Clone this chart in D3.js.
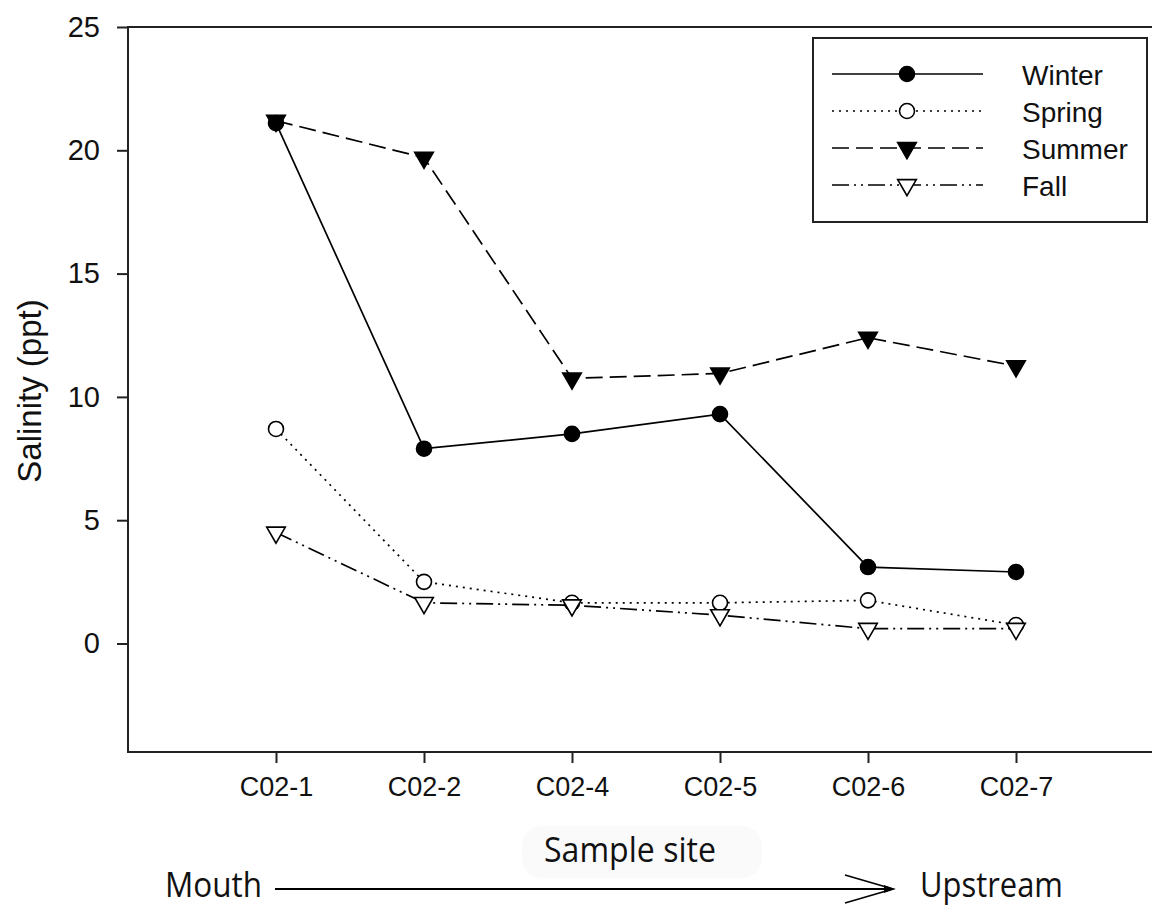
<!DOCTYPE html>
<html>
<head>
<meta charset="utf-8">
<script src="https://cdn.jsdelivr.net/npm/d3@7"></script>
<style>
  body { margin: 0; background: #fff; overflow: hidden; }
  svg { display: block; overflow: hidden; }
</style>
</head>
<body>
<div id="chart"></div>
<script>
// sample sites, mouth to upstream
var sites = ['C02-1', 'C02-2', 'C02-4', 'C02-5', 'C02-6', 'C02-7'];

// salinity (ppt) per season
var winter = [21.1, 7.9, 8.5, 9.3, 3.1, 2.9];
var spring = [8.7, 2.5, 1.65, 1.65, 1.75, 0.75];
var summer = [21.2, 19.7, 10.75, 10.95, 12.4, 11.25];
var fall = [4.5, 1.65, 1.55, 1.15, 0.6, 0.6];

var yTicks = [0, 5, 10, 15, 20, 25];

var series = [
  { name: 'Winter', values: winter, dash: null, marker: 'circle', fill: '#000' },
  { name: 'Spring', values: spring, dash: '2,5', marker: 'circle', fill: '#fff' },
  { name: 'Summer', values: summer, dash: '17,7', marker: 'triangle', fill: '#000' },
  { name: 'Fall', values: fall, dash: '17,5,2,5,2,5', marker: 'triangle', fill: '#fff' }
];

var width = 1152, height = 907;
var frame = { left: 128, top: 27, right: 1164, bottom: 752 };

var svg = d3.select('#chart').append('svg')
    .attr('width', width)
    .attr('height', height);

// scales: one empty slot each side of the sites, the right one falls off the page
var x = d3.scalePoint()
    .domain(sites)
    .range([frame.left, frame.right])
    .padding(1);

var y = d3.scaleLinear()
    .domain([-4.4, 25])
    .range([frame.bottom, frame.top]);

// frame: top, left, bottom (right side is cut off in the figure)
svg.append('path')
    .attr('d', 'M' + width + ',' + frame.top + ' H' + frame.left +
               ' V' + frame.bottom + ' H' + width)
    .attr('fill', 'none')
    .attr('stroke', '#222')
    .attr('stroke-width', 2);

// y axis
var yAxis = svg.append('g')
    .attr('transform', 'translate(' + frame.left + ',0)')
    .call(d3.axisLeft(y).tickValues(yTicks).tickSize(11).tickPadding(17));
styleAxis(yAxis);

// x axis
var xAxis = svg.append('g')
    .attr('transform', 'translate(0,' + frame.bottom + ')')
    .call(d3.axisBottom(x).tickSize(11).tickPadding(14));
styleAxis(xAxis);
xAxis.selectAll('text').attr('font-size', 27);

// axis titles
svg.append('text')
    .attr('transform', 'translate(41,391) rotate(-90)')
    .attr('text-anchor', 'middle')
    .attr('font-family', '"Liberation Sans", Arial, sans-serif')
    .attr('font-size', 33)
    .attr('fill', '#111')
    .text('Salinity (ppt)');

// faint patch behind the x title, as in the scan
svg.append('rect')
    .attr('x', 522).attr('y', 826)
    .attr('width', 240).attr('height', 52)
    .attr('rx', 20)
    .attr('fill', '#fafafa');

drawLabel('Sample site', 544, 862, 172);
drawLabel('Mouth', 165, 897, 97);
drawLabel('Upstream', 920, 897, 143);

// mouth -> upstream arrow
svg.append('line')
    .attr('x1', 275).attr('y1', 889)
    .attr('x2', 893).attr('y2', 889)
    .attr('stroke', '#000').attr('stroke-width', 2);
svg.append('path')
    .attr('d', 'M845,875 L893,889 L845,903')
    .attr('fill', 'none')
    .attr('stroke', '#000').attr('stroke-width', 1.6);
svg.append('path')
    .attr('d', 'M884,885 L895,889 L884,893 Z')
    .attr('fill', '#000');

// series lines
var line = d3.line()
    .x(function(d, i) { return x(sites[i]); })
    .y(function(d) { return y(d); });

series.forEach(function(s) {
  svg.append('path')
      .datum(s.values)
      .attr('d', line)
      .attr('fill', 'none')
      .attr('stroke', '#000')
      .attr('stroke-width', 1.7)
      .attr('stroke-dasharray', s.dash);
});

// markers on top
series.forEach(function(s) {
  s.values.forEach(function(v, i) {
    drawMarker(s, x(sites[i]), y(v));
  });
});

// legend
var legend = { x: 813, y: 38, w: 334, h: 184 };
svg.append('rect')
    .attr('x', legend.x).attr('y', legend.y)
    .attr('width', legend.w).attr('height', legend.h)
    .attr('fill', '#fff')
    .attr('stroke', '#222')
    .attr('stroke-width', 2);

series.forEach(function(s, i) {
  var ly = 74 + i * 37;
  svg.append('line')
      .attr('x1', 832).attr('y1', ly)
      .attr('x2', 983).attr('y2', ly)
      .attr('stroke', '#000')
      .attr('stroke-width', 1.7)
      .attr('stroke-dasharray', s.dash);
  drawMarker(s, 907, ly);
  svg.append('text')
      .attr('x', 1022).attr('y', ly + 11)
      .attr('font-family', '"Liberation Sans", Arial, sans-serif')
      .attr('font-size', 28)
      .attr('fill', '#111')
      .text(s.name);
});

/**
 * axis look: dark lines, arial-like labels.
 */
function styleAxis(g) {
  g.select('.domain').remove();
  g.selectAll('.tick line')
      .attr('stroke', '#222')
      .attr('stroke-width', 2);
  g.selectAll('.tick text')
      .attr('font-family', '"Liberation Sans", Arial, sans-serif')
      .attr('font-size', 29)
      .attr('fill', '#111');
}

/**
 * bottom labels, squeezed to the width they have in the figure.
 */
function drawLabel(txt, lx, ly, len) {
  svg.append('text')
      .attr('x', lx).attr('y', ly)
      .attr('font-family', '"Open Sans", "Noto Sans", sans-serif')
      .attr('font-size', 35)
      .attr('textLength', len)
      .attr('lengthAdjust', 'spacingAndGlyphs')
      .attr('fill', '#111')
      .text(txt);
}

/**
 * circle or down triangle at a point.
 */
function drawMarker(s, cx, cy) {
  if (s.marker === 'circle') {
    svg.append('circle')
        .attr('cx', cx).attr('cy', cy)
        .attr('r', 7.5)
        .attr('fill', s.fill)
        .attr('stroke', '#000')
        .attr('stroke-width', 1.6);
  } else {
    svg.append('path')
        .attr('d', d3.symbol().type(d3.symbolTriangle).size(150)())
        .attr('transform', 'translate(' + cx + ',' + cy + ') rotate(180)')
        .attr('fill', s.fill)
        .attr('stroke', '#000')
        .attr('stroke-width', 1.6);
  }
}
</script>
</body>
</html>
